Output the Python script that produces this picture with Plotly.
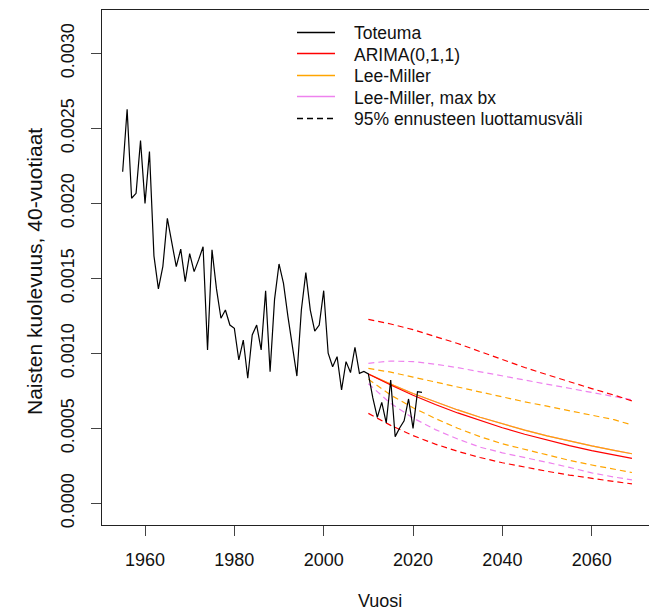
import plotly.graph_objects as go

# Observed mortality, women aged 40 (annual)
obs_years = list(range(1955, 2023))
obs_values = [
    0.002211, 0.002627, 0.002034, 0.002067, 0.002418, 0.002000, 0.002345, 0.001650,
    0.001430, 0.001580, 0.001900, 0.001740, 0.001578, 0.001695, 0.001478, 0.001665,
    0.001545, 0.001623, 0.001711, 0.001023, 0.001690, 0.001430, 0.001234, 0.001289,
    0.001189, 0.001167, 0.000956, 0.001089, 0.000834, 0.001123, 0.001189, 0.001023,
    0.001418, 0.000878, 0.001360, 0.001596, 0.001467, 0.001245, 0.001045, 0.000849,
    0.001289, 0.001538, 0.001289, 0.001149, 0.001189, 0.001418, 0.001001, 0.000911,
    0.000978, 0.000756, 0.000945, 0.000872, 0.001041, 0.000867, 0.000880, 0.000863,
    0.000703, 0.000573, 0.000673, 0.000536, 0.000823, 0.000445, 0.000503, 0.000550,
    0.000696, 0.000500, 0.000745, 0.000740,
]

# Forecast horizon
fc_years = [2010, 2015, 2020, 2025, 2030, 2035, 2040, 2045, 2050, 2055, 2060, 2065, 2069]

# ARIMA(0,1,1)
arima_mid = [0.000863, 0.000789, 0.000721, 0.000659, 0.000603, 0.000551, 0.000504,
             0.000461, 0.000421, 0.000385, 0.000352, 0.000322, 0.000300]
arima_hi = [0.001227, 0.001196, 0.001158, 0.001114, 0.001066, 0.001012, 0.000958,
            0.000906, 0.000858, 0.000810, 0.000765, 0.000722, 0.000683]
arima_lo = [0.000600, 0.000520, 0.000452, 0.000395, 0.000347, 0.000306, 0.000271,
            0.000241, 0.000214, 0.000189, 0.000166, 0.000146, 0.000130]

# Lee-Miller
lm_mid = [0.000863, 0.000795, 0.000733, 0.000676, 0.000623, 0.000574, 0.000530,
          0.000488, 0.000450, 0.000415, 0.000383, 0.000353, 0.000331]
lm_hi = [0.000900, 0.000875, 0.000842, 0.000808, 0.000774, 0.000740, 0.000708,
         0.000677, 0.000648, 0.000618, 0.000588, 0.000558, 0.000523]
lm_lo = [0.000828, 0.000722, 0.000638, 0.000566, 0.000501, 0.000445, 0.000397,
         0.000360, 0.000320, 0.000287, 0.000256, 0.000228, 0.000206]

# Lee-Miller, max bx
lmx_mid = lm_mid
lmx_hi = [0.000934, 0.000949, 0.000945, 0.000928, 0.000905, 0.000878, 0.000850,
          0.000823, 0.000796, 0.000768, 0.000743, 0.000716, 0.000690]
lmx_lo = [0.000798, 0.000666, 0.000569, 0.000492, 0.000429, 0.000375, 0.000337,
          0.000307, 0.000274, 0.000240, 0.000203, 0.000176, 0.000157]

legend_labels = ["Toteuma", "ARIMA(0,1,1)", "Lee-Miller", "Lee-Miller, max bx",
                 "95% ennusteen luottamusväli"]

RED, ORANGE, VIOLET = "#FF0000", "#FFA500", "#EE82EE"
DASH = "6px,4px"
LW = 1.2
FONT = "Liberation Sans, Arial, sans-serif"

W, H = 649, 614
ML, MR, MT, MB = 102, 0, 10, 89
PW, PH = W - ML - MR, H - MT - MB


def px(xpix):
    return (xpix - ML) / PW


def py(ypix):
    return (H - MB - ypix) / PH


fig = go.Figure()


def add_line(xs, ys, color, dash=None):
    fig.add_trace(go.Scatter(x=xs, y=ys, mode="lines", showlegend=False,
                             hoverinfo="skip",
                             line=dict(color=color, width=LW, dash=dash)))


for lo, hi, mid, col in [(lmx_lo, lmx_hi, lmx_mid, VIOLET),
                         (lm_lo, lm_hi, lm_mid, ORANGE),
                         (arima_lo, arima_hi, arima_mid, RED)]:
    add_line(fc_years, hi, col, DASH)
    add_line(fc_years, lo, col, DASH)
    add_line(fc_years, mid, col)

add_line(obs_years, obs_values, "#000000")

# Legend drawn inside the plot, without a frame
legend_styles = [("#000000", None), (RED, None), (ORANGE, None), (VIOLET, None),
                 ("#000000", DASH)]
row_y = [32.5, 53.5, 75.5, 96.5, 118.5]
shapes = []
annotations = []
for label, (col, dash), yy in zip(legend_labels, legend_styles, row_y):
    shapes.append(dict(type="line", xref="paper", yref="paper",
                       x0=px(297), x1=px(335), y0=py(yy), y1=py(yy),
                       line=dict(color=col, width=1.3, dash=dash)))
    annotations.append(dict(xref="paper", yref="paper", x=px(352), y=py(yy + 1),
                            text=label, showarrow=False, xanchor="left",
                            yanchor="middle", font=dict(size=17.5, color="#111111")))

# Axis titles
annotations.append(dict(xref="paper", yref="paper", x=0.5 * (px(102) + px(657)),
                        y=py(601), text="Vuosi", showarrow=False,
                        xanchor="center", yanchor="middle",
                        font=dict(size=18, color="#111111")))
annotations.append(dict(xref="paper", yref="paper", x=px(34), y=py(272),
                        text="Naisten kuolevuus, 40-vuotiaat", showarrow=False,
                        textangle=-90, xanchor="center", yanchor="middle",
                        font=dict(size=21, color="#111111")))

fig.update_layout(
    width=W, height=H,
    margin=dict(l=ML, r=MR, t=MT, b=MB, autoexpand=False),
    paper_bgcolor="white", plot_bgcolor="white",
    font=dict(family=FONT, size=18, color="#111111"),
    shapes=shapes, annotations=annotations,
    showlegend=False,
)
fig.update_xaxes(
    range=[1950.374, 2072.82], tickvals=[1960, 1980, 2000, 2020, 2040, 2060],
    showgrid=False, zeroline=False, showline=True, linecolor="#222222",
    linewidth=1, mirror=True, ticks="outside", ticklen=10, tickcolor="#444444",
    tickwidth=1, ticklabelstandoff=8, automargin=False,
    tickfont=dict(size=18, color="#111111"),
)
fig.update_yaxes(
    range=[-0.000144, 0.003289],
    tickvals=[0, 0.0005, 0.001, 0.0015, 0.002, 0.0025, 0.003],
    ticktext=["0.0000", "0.0005", "0.0010", "0.0015", "0.0020", "0.0025", "0.0030"],
    tickangle=-90, showgrid=False, zeroline=False, showline=True,
    linecolor="#222222", linewidth=1, mirror=False, ticks="outside",
    ticklen=10, tickcolor="#444444", tickwidth=1, ticklabelstandoff=10,
    automargin=False, tickfont=dict(size=18, color="#111111"),
)

fig.write_html("out.html")
